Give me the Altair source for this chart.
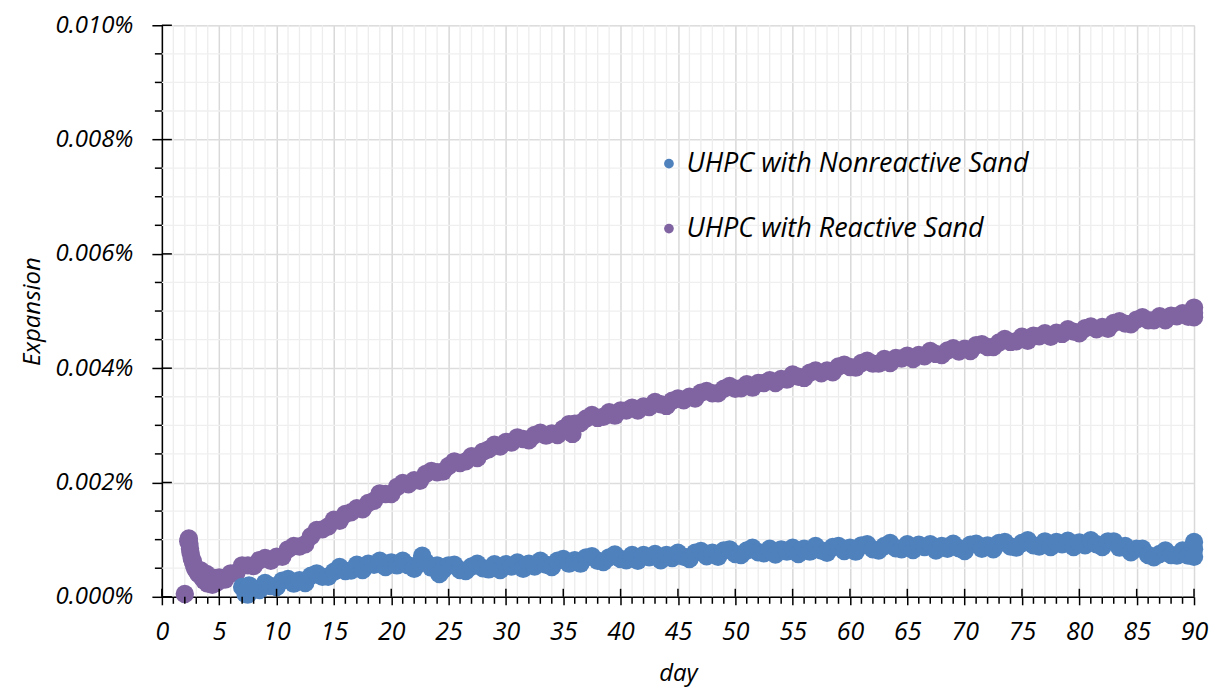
import altair as alt
import pandas as pd

SERIES = ["UHPC with Nonreactive Sand", "UHPC with Reactive Sand"]
COLORS = ["#4F81BD", "#8064A2"]

# expansion values are in units of 0.00001 %
REACTIVE_EARLY_DAY = [2.0, 2.3, 2.35, 2.4, 2.45, 2.5, 2.6, 2.7, 2.8, 2.9, 3.0, 3.2, 3.4, 3.5, 3.7, 3.9, 4.0, 4.2, 4.4, 4.6, 4.8]
REACTIVE_EARLY_E5 = [5, 97, 102, 93, 84, 77, 68, 62, 55, 50, 46, 40, 46, 34, 28, 40, 23, 30, 21, 33, 25]

REACTIVE_START, REACTIVE_STEP = 5.0, 0.5
REACTIVE_E5 = [
    34, 30, 41, 42, 55, 55, 54, 64, 68, 63,
    70, 70, 83, 89, 88, 92, 106, 117, 118, 123,
    135, 133, 145, 148, 155, 153, 164, 168, 181, 180,
    180, 192, 199, 197, 204, 203, 215, 220, 218, 219,
    229, 237, 234, 237, 246, 243, 254, 258, 266, 263,
    271, 270, 279, 276, 274, 283, 287, 282, 286, 283,
    294, 302, 303, 304, 312, 318, 313, 315, 323, 317,
    326, 326, 331, 326, 333, 332, 341, 337, 334, 343,
    347, 344, 350, 347, 357, 360, 356, 356, 364, 369,
    364, 365, 372, 366, 374, 374, 379, 374, 381, 380,
    389, 385, 383, 392, 396, 391, 396, 393, 403, 406,
    402, 401, 409, 413, 408, 408, 416, 409, 418, 417,
    422, 416, 423, 421, 430, 425, 423, 431, 435, 429,
    434, 430, 440, 442, 437, 437, 445, 451, 446, 447,
    455, 448, 457, 456, 461, 455, 462, 460, 468, 464,
    461, 470, 473, 468, 472, 469, 479, 482, 478, 477,
    485, 489, 484, 484, 491, 484, 492, 491, 496, 490,
    497,
]
REACTIVE_EXTRA_DAY = [35.8, 90.0, 90.0]
REACTIVE_EXTRA_E5 = [285, 489, 506]

NONREACTIVE_START, NONREACTIVE_STEP = 7.0, 0.5
NONREACTIVE_E5 = [
    17, 4, 14, 12, 24, 19, 17, 28, 31, 23,
    29, 24, 37, 41, 35, 35, 44, 52, 45, 46,
    56, 47, 58, 56, 63, 52, 60, 55, 63, 55,
    49, 59, 61, 51, 55, 47, 55, 56, 47, 45,
    53, 58, 50, 48, 57, 47, 57, 53, 60, 49,
    58, 53, 63, 56, 52, 63, 66, 58, 64, 58,
    69, 71, 63, 61, 69, 74, 66, 64, 73, 63,
    73, 69, 75, 64, 73, 68, 77, 70, 66, 77,
    80, 71, 77, 70, 81, 83, 75, 73, 81, 86,
    78, 76, 84, 74, 83, 79, 86, 75, 84, 79,
    89, 81, 77, 87, 89, 80, 86, 79, 90, 92,
    83, 81, 89, 94, 85, 83, 92, 82, 91, 87,
    92, 81, 89, 84, 93, 85, 80, 91, 93, 84,
    90, 83, 94, 96, 88, 86, 94, 99, 90, 88,
    97, 87, 96, 92, 98, 87, 95, 90, 99, 92,
    87, 97, 97, 86, 89, 78, 84, 84, 73, 69,
    75, 81, 73, 72, 81, 72, 83,
]
NONREACTIVE_EXTRA_DAY = [7.3, 7.6, 22.7, 24.2, 90.0, 90.0]
NONREACTIVE_EXTRA_E5 = [5, 20, 72, 40, 96, 70]

X_MAJOR = list(range(0, 91, 5))
X_MINOR = [d for d in range(0, 91) if d % 5 != 0]
Y_MAJOR = [0.0, 0.002, 0.004, 0.006, 0.008, 0.010]
Y_MINOR = [0.0005, 0.001, 0.0015, 0.0025, 0.003, 0.0035, 0.0045, 0.005, 0.0055,
           0.0065, 0.007, 0.0075, 0.0085, 0.009, 0.0095]

FONT = "Open Sans"

rows = []
for d, v in zip(REACTIVE_EARLY_DAY, REACTIVE_EARLY_E5):
    rows.append((d, v / 100000, SERIES[1]))
for i, v in enumerate(REACTIVE_E5):
    rows.append((REACTIVE_START + REACTIVE_STEP * i, v / 100000, SERIES[1]))
for d, v in zip(REACTIVE_EXTRA_DAY, REACTIVE_EXTRA_E5):
    rows.append((d, v / 100000, SERIES[1]))
for i, v in enumerate(NONREACTIVE_E5):
    rows.append((NONREACTIVE_START + NONREACTIVE_STEP * i, v / 100000, SERIES[0]))
for d, v in zip(NONREACTIVE_EXTRA_DAY, NONREACTIVE_EXTRA_E5):
    rows.append((d, v / 100000, SERIES[0]))
df = pd.DataFrame(rows, columns=["day", "value", "series"])

W, H = 1033, 572

xscale = alt.Scale(domain=[0, 90], nice=False, zero=False)
yscale = alt.Scale(domain=[0, 0.010], nice=False)

x_axis = alt.Axis(
    values=X_MAJOR,
    format="d",
    title="day",
    titleFont=FONT, titleFontStyle="italic", titleFontWeight="normal",
    titleFontSize=24, titleColor="#000", titlePadding=17,
    labelFont=FONT, labelFontStyle="italic", labelFontSize=25, labelColor="#000",
    labelPadding=15, labelFlush=False, labelOverlap=False,
    domainColor="#000", domainWidth=1.5,
    tickColor="#000", tickWidth=1.5, tickSize=8,
    grid=True, gridColor="#D9D9D9", gridWidth=1.5,
)
y_axis = alt.Axis(
    values=Y_MAJOR,
    labelExpr="format(datum.value, '.3f') + '%'",
    title="Expansion",
    titleFont=FONT, titleFontStyle="italic", titleFontWeight="normal",
    titleFontSize=24, titleColor="#000", titlePadding=10,
    labelFont=FONT, labelFontStyle="italic", labelFontSize=24, labelColor="#000",
    labelPadding=19, labelFlush=False, labelOverlap=False,
    domainColor="#000", domainWidth=1.5,
    tickColor="#000", tickWidth=1.5, tickSize=10,
    grid=True, gridColor="#DDDDDD", gridWidth=1.5,
)

# minor gridlines (drawn behind the points)
xminor_grid = alt.Chart(pd.DataFrame({"day": X_MINOR})).mark_rule(color="#EDEDED", strokeWidth=1.3).encode(
    x=alt.X("day:Q", scale=xscale, axis=x_axis),
    y=alt.value(0), y2=alt.value(H),
)
yminor_grid = alt.Chart(pd.DataFrame({"value": Y_MINOR})).mark_rule(color="#EFEFEF", strokeWidth=1.3).encode(
    y=alt.Y("value:Q", scale=yscale, axis=y_axis),
    x=alt.value(0), x2=alt.value(W),
)

points = alt.Chart(df).mark_circle(size=340, opacity=1).encode(
    x=alt.X("day:Q", scale=xscale, axis=x_axis),
    y=alt.Y("value:Q", scale=yscale, axis=y_axis),
    color=alt.Color(
        "series:N",
        scale=alt.Scale(domain=SERIES, range=COLORS),
        legend=alt.Legend(
            title=None, orient="none", legendX=494, legendY=125,
            symbolType="circle", symbolSize=95, symbolStrokeWidth=0,
            labelFont=FONT, labelFontStyle="italic", labelFontSize=27, labelColor="#000",
            labelOffset=4, rowPadding=37, padding=0, labelLimit=500,
        ),
    ),
)

# minor ticks (outside) and inner halves of major ticks
xminor_tick = alt.Chart(pd.DataFrame({"day": X_MINOR})).mark_rule(color="#000", strokeWidth=1.5).encode(
    x=alt.X("day:Q", scale=xscale, axis=x_axis),
    y=alt.value(H), y2=alt.value(H + 7),
)
xmajor_in = alt.Chart(pd.DataFrame({"day": X_MAJOR})).mark_rule(color="#000", strokeWidth=1.5).encode(
    x=alt.X("day:Q", scale=xscale, axis=x_axis),
    y=alt.value(H - 8), y2=alt.value(H),
)
yminor_tick = alt.Chart(pd.DataFrame({"value": Y_MINOR})).mark_rule(color="#000", strokeWidth=1.5).encode(
    y=alt.Y("value:Q", scale=yscale, axis=y_axis),
    x=alt.value(-7), x2=alt.value(0),
)
ymajor_in = alt.Chart(pd.DataFrame({"value": Y_MAJOR})).mark_rule(color="#000", strokeWidth=1.5).encode(
    y=alt.Y("value:Q", scale=yscale, axis=y_axis),
    x=alt.value(0), x2=alt.value(10),
)

chart = alt.layer(
    xminor_grid, yminor_grid, points, xminor_tick, xmajor_in, yminor_tick, ymajor_in
).properties(
    width=W, height=H,
    autosize=alt.AutoSizeParams(type="none"),
    padding={"left": 154, "top": 17, "right": 20, "bottom": 95},
).configure_view(stroke=None).configure(background="#ffffff")

chart.save("out.html", embed_options={"renderer": "svg", "actions": False})
